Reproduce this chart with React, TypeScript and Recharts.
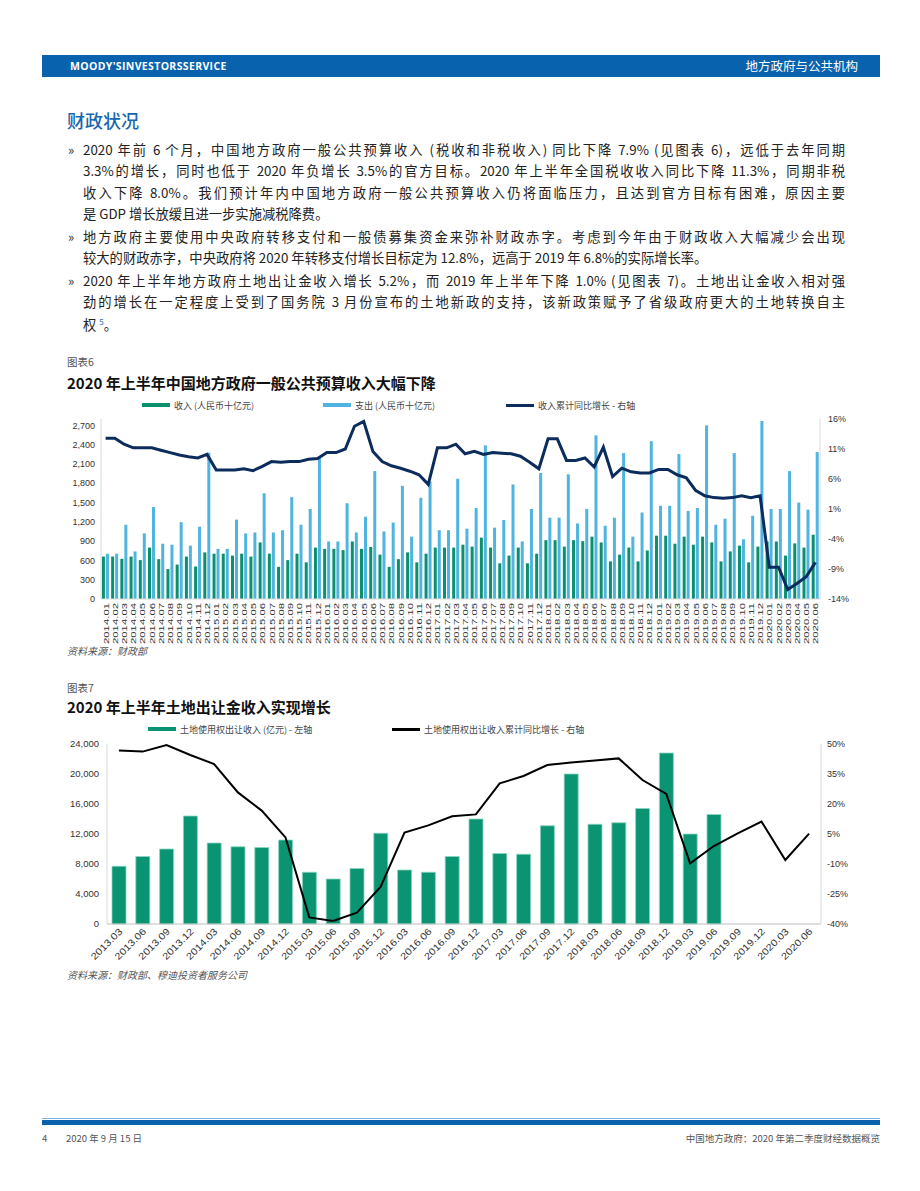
import React from 'react';
import { ComposedChart, Bar, Line, XAxis, YAxis } from 'recharts';

// ---------- Chart 6 data ----------
const months6 = [
  '2014.01','2014.02','2014.03','2014.04','2014.05','2014.06','2014.07','2014.08','2014.09','2014.10','2014.11','2014.12',
  '2015.01','2015.02','2015.03','2015.04','2015.05','2015.06','2015.07','2015.08','2015.09','2015.10','2015.11','2015.12',
  '2016.01','2016.02','2016.03','2016.04','2016.05','2016.06','2016.07','2016.08','2016.09','2016.10','2016.11','2016.12',
  '2017.01','2017.02','2017.03','2017.04','2017.05','2017.06','2017.07','2017.08','2017.09','2017.10','2017.11','2017.12',
  '2018.01','2018.02','2018.03','2018.04','2018.05','2018.06','2018.07','2018.08','2018.09','2018.10','2018.11','2018.12',
  '2019.01','2019.02','2019.03','2019.04','2019.05','2019.06','2019.07','2019.08','2019.09','2019.10','2019.11','2019.12',
  '2020.01','2020.02','2020.03','2020.04','2020.05','2020.06',
];
const revenue6 = [
  660, 660, 625, 660, 605, 800, 620, 465, 535, 660, 505, 725,
  705, 705, 675, 705, 660, 880, 705, 500, 605, 705, 570, 800,
  780, 780, 760, 895, 780, 810, 690, 500, 620, 725, 570, 705,
  800, 800, 800, 845, 815, 955, 800, 555, 675, 800, 555, 705,
  915, 915, 815, 915, 900, 970, 880, 585, 690, 800, 585, 755,
  985, 985, 860, 970, 845, 970, 880, 585, 740, 830, 570, 815,
  895, 895, 675, 865, 800, 1000,
];
const expenditure6 = [
  705, 705, 1155, 740, 1020, 1430, 860, 845, 1195, 830, 1125, 2275,
  780, 780, 1235, 1020, 1035, 1645, 1035, 1070, 1585, 1155, 1400, 2190,
  895, 895, 1490, 1035, 1280, 1990, 1050, 1190, 1760, 970, 1575, 1830,
  1070, 1070, 1870, 1095, 1415, 2390, 1110, 1230, 1780, 895, 1400, 1960,
  1265, 1265, 1940, 1175, 1400, 2545, 1140, 1265, 2270, 970, 1345, 2455,
  1450, 1450, 2255, 1370, 1415, 2700, 1155, 1250, 2270, 930, 1295, 2770,
  1400, 1400, 1990, 1500, 1390, 2285,
];
const growth6 = [
  12.8, 12.8, 11.8, 11.2, 11.2, 11.2, 10.8, 10.4, 10.0, 9.7, 9.5, 10.1,
  7.5, 7.5, 7.5, 7.7, 7.4, 8.1, 8.9, 8.8, 8.9, 8.9, 9.3, 9.4,
  10.4, 10.4, 11.0, 14.8, 15.6, 10.6, 8.9, 8.2, 7.8, 7.3, 6.7, 5.1,
  11.2, 11.2, 11.8, 10.2, 10.6, 10.1, 10.4, 10.3, 10.2, 9.8, 8.8, 7.7,
  12.7, 12.7, 9.1, 9.1, 9.5, 8.0, 11.3, 6.4, 7.8, 7.2, 7.0, 7.0,
  7.6, 7.6, 6.7, 6.2, 4.1, 3.2, 2.9, 2.8, 2.9, 3.2, 2.9, 3.2,
  -8.7, -8.7, -12.4, -11.4, -10.3, -7.9,
];
const leftTicks6 = [0, 300, 600, 900, 1200, 1500, 1800, 2100, 2400, 2700];
const rightTicks6 = [-14, -9, -4, 1, 6, 11, 16];

// ---------- Chart 7 data ----------
const quarters7 = [
  '2013.03','2013.06','2013.09','2013.12','2014.03','2014.06','2014.09','2014.12',
  '2015.03','2015.06','2015.09','2015.12','2016.03','2016.06','2016.09','2016.12',
  '2017.03','2017.06','2017.09','2017.12','2018.03','2018.06','2018.09','2018.12',
  '2019.03','2019.06','2019.09','2019.12','2020.03','2020.06',
];
const land7: (number | null)[] = [
  7700, 9000, 10000, 14400, 10800, 10300, 10200, 11200,
  6900, 6000, 7400, 12100, 7200, 6900, 9000, 14000,
  9400, 9300, 13100, 20000, 13300, 13500, 15400, 22800,
  12000, 14600, null, null, null, null,
];
const landGrowth7 = [
  46.7, 46.2, 49.5, 44.5, 40.0, 25.8, 16.7, 3.3,
  -36.7, -38.5, -34.3, -21.3, 5.7, 9.3, 13.9, 14.8,
  30.3, 34.0, 39.5, 40.8, 41.7, 42.8, 32.0, 25.0,
  -9.7, -1.0, 5.3, 11.2, -8.0, 5.2,
];
const leftTicks7 = [0, 4000, 8000, 12000, 16000, 20000, 24000];
const rightTicks7 = [-40, -25, -10, 5, 20, 35, 50];

const chart6Data = months6.map((m, i) => ({ month: m, rev: revenue6[i], exp: expenditure6[i], growth: growth6[i] }));
const chart7Data = quarters7.map((q, i) => ({ q, land: land7[i], growth: landGrowth7[i] }));

const GREEN = '#0A8F6F';
const BLUE = '#4FB4E0';
const NAVY = '#0B2C5C';
const GREEN7 = '#0A9472';
const HEADER_BLUE = '#0862AD';
const AXIS_FONT = "'Liberation Sans', Arial, sans-serif";
const CJK = "'Noto Sans CJK SC', 'Noto Sans', sans-serif";

const fmtComma = (v: number) => v.toLocaleString('en-US');
const fmtPct = (v: number) => `${v}%`;

const Tick6 = (props: any) => {
  const { x, y, payload } = props;
  return (
    <g transform={`translate(${x},${y})`}>
      <text x={0} y={0} dy={3} transform="rotate(-90)" textAnchor="end" fontSize={8} fill="#333"
        fontFamily={AXIS_FONT} textLength={41} lengthAdjust="spacingAndGlyphs">{payload.value}</text>
    </g>
  );
};

const Tick7 = (props: any) => {
  const { x, y, payload } = props;
  return (
    <g transform={`translate(${x + 2},${y})`}>
      <text x={0} y={0} dy={3} transform="rotate(-45)" textAnchor="end" fontSize={9.5} fill="#333"
        fontFamily={AXIS_FONT} textLength={40} lengthAdjust="spacingAndGlyphs">{payload.value}</text>
    </g>
  );
};

const abs = (l: number, t: number, extra: React.CSSProperties = {}): React.CSSProperties => ({
  position: 'absolute', left: l, top: t, ...extra,
});

const LINE_LEFT = 83;
const LINE_WIDTH = 762;

const TextLine = ({ y, text, justify = true }: { y: number; text: React.ReactNode; justify?: boolean }) => (
  <div style={abs(LINE_LEFT, y - 10, {
    width: LINE_WIDTH, height: 20, lineHeight: '20px', fontSize: 13.3, color: '#222',
    textAlign: justify ? 'justify' : 'left', textAlignLast: justify ? 'justify' : 'left',
    fontFamily: CJK,
  } as React.CSSProperties)}>{text}</div>
);

const Bullet = ({ y }: { y: number }) => (
  <div style={abs(68, y - 10, { fontSize: 13, lineHeight: '20px', color: '#333', fontFamily: CJK })}>»</div>
);

const LegendItem = ({ x, y, kind, color, label }: { x: number; y: number; kind: 'bar' | 'line'; color: string; label: string }) => (
  <div style={abs(x, y - 7, { display: 'flex', alignItems: 'center', height: 14, whiteSpace: 'nowrap' })}>
    <div style={{ width: 28, height: kind === 'bar' ? 4 : 3, background: color, marginRight: 4 }} />
    <span style={{ fontSize: 9, color: '#444', fontFamily: CJK }}>{label}</span>
  </div>
);

export default function App() {
  return (
    <div style={{ position: 'absolute', left: 0, top: 0, width: 920, height: 1191, background: '#fff', fontFamily: CJK, overflow: 'hidden' }}>
      {/* Header */}
      <div style={abs(42, 55, { width: 838, height: 22, background: HEADER_BLUE })} />
      <div style={abs(70, 55, { height: 22, lineHeight: '22px', color: '#fff', fontSize: 10.5, fontWeight: 700, fontFamily: "'Open Sans', sans-serif", letterSpacing: 0.35 })}>MOODY'SINVESTORSSERVICE</div>
      <div style={abs(640, 55, { width: 218, height: 22, lineHeight: '22px', color: '#fff', fontSize: 12.5, textAlign: 'right', fontFamily: CJK })}>地方政府与公共机构</div>

      {/* Section title */}
      <div style={abs(67, 108, { fontSize: 18, lineHeight: '24px', color: '#1A66B0', fontWeight: 500, fontFamily: CJK })}>财政状况</div>

      {/* Paragraph 1 */}
      <Bullet y={150} />
      <TextLine y={150} text="2020 年前 6 个月，中国地方政府一般公共预算收入 (税收和非税收入) 同比下降 7.9% (见图表 6)，远低于去年同期" />
      <TextLine y={171} text="3.3%的增长，同时也低于 2020 年负增长 3.5%的官方目标。2020 年上半年全国税收收入同比下降 11.3%，同期非税" />
      <TextLine y={193} text="收入下降 8.0%。我们预计年内中国地方政府一般公共预算收入仍将面临压力，且达到官方目标有困难，原因主要" />
      <TextLine y={214} justify={false} text="是 GDP 增长放缓且进一步实施减税降费。" />

      {/* Paragraph 2 */}
      <Bullet y={237} />
      <TextLine y={237} text="地方政府主要使用中央政府转移支付和一般债募集资金来弥补财政赤字。考虑到今年由于财政收入大幅减少会出现" />
      <TextLine y={258} justify={false} text="较大的财政赤字，中央政府将 2020 年转移支付增长目标定为 12.8%，远高于 2019 年 6.8%的实际增长率。" />

      {/* Paragraph 3 */}
      <Bullet y={281} />
      <TextLine y={281} text="2020 年上半年地方政府土地出让金收入增长 5.2%，而 2019 年上半年下降 1.0% (见图表 7)。土地出让金收入相对强" />
      <TextLine y={302} text="劲的增长在一定程度上受到了国务院 3 月份宣布的土地新政的支持，该新政策赋予了省级政府更大的土地转换自主" />
      <TextLine y={322} justify={false} text={<span>权 <sup style={{ fontSize: 8, color: '#1C6BB4' }}>5</sup>。</span>} />

      {/* Chart 6 headings */}
      <div style={abs(67, 355, { fontSize: 10.5, lineHeight: '14px', color: '#555', fontFamily: CJK })}>图表6</div>
      <div style={abs(67, 373, { fontSize: 15, lineHeight: '20px', fontWeight: 700, color: '#111', fontFamily: CJK, whiteSpace: 'nowrap' })}>2020 年上半年中国地方政府一般公共预算收入大幅下降</div>

      <LegendItem x={142} y={405} kind="bar" color={GREEN} label="收入 (人民币十亿元)" />
      <LegendItem x={323} y={405} kind="bar" color={BLUE} label="支出 (人民币十亿元)" />
      <LegendItem x={506} y={405} kind="line" color={NAVY} label="收入累计同比增长 - 右轴" />

      <div style={abs(0, 400)}>
        <ComposedChart width={920} height={260} data={chart6Data}
          margin={{ top: 19, right: 60, bottom: 11, left: 61 }} barCategoryGap="10%" barGap={1}>
          <XAxis dataKey="month" interval={0} tickLine={false} axisLine={{ stroke: '#d9d9d9' }}
            tick={<Tick6 />} height={50} tickSize={0} tickMargin={4} />
          <YAxis yAxisId="left" domain={[0, 2800]} ticks={leftTicks6} width={40} tickLine={false}
            axisLine={{ stroke: '#d9d9d9' }} tickSize={0} tickMargin={6} tickFormatter={fmtComma}
            tick={{ fontSize: 9, fill: '#333', fontFamily: AXIS_FONT }} />
          <YAxis yAxisId="right" orientation="right" domain={[-14, 16]} ticks={rightTicks6} width={40}
            tickLine={false} axisLine={{ stroke: '#d9d9d9' }} tickSize={0} tickMargin={8} tickFormatter={fmtPct}
            tick={{ fontSize: 9, fill: '#333', fontFamily: AXIS_FONT }} />
          <Bar yAxisId="left" dataKey="rev" fill={GREEN} isAnimationActive={false} />
          <Bar yAxisId="left" dataKey="exp" fill={BLUE} isAnimationActive={false} />
          <Line yAxisId="right" dataKey="growth" stroke={NAVY} strokeWidth={3} dot={false}
            type="linear" isAnimationActive={false} />
        </ComposedChart>
      </div>

      <div style={abs(67, 644, { fontSize: 10, lineHeight: '14px', color: '#555', fontStyle: 'italic', fontFamily: CJK })}>资料来源：财政部</div>

      {/* Chart 7 headings */}
      <div style={abs(67, 681, { fontSize: 10.5, lineHeight: '14px', color: '#555', fontFamily: CJK })}>图表7</div>
      <div style={abs(67, 697, { fontSize: 15, lineHeight: '20px', fontWeight: 700, color: '#111', fontFamily: CJK, whiteSpace: 'nowrap' })}>2020 年上半年土地出让金收入实现增长</div>

      <LegendItem x={148} y={729} kind="bar" color={GREEN7} label="土地使用权出让收入 (亿元) - 左轴" />
      <LegendItem x={392} y={729} kind="line" color="#000" label="土地使用权出让收入累计同比增长 - 右轴" />

      <div style={abs(0, 730)}>
        <ComposedChart width={920} height={260} data={chart7Data}
          margin={{ top: 14, right: 59, bottom: 10, left: 67 }} barCategoryGap="21%">
          <XAxis dataKey="q" interval={0} tickLine={false} axisLine={{ stroke: '#bfbfbf' }}
            tick={<Tick7 />} height={56} tickSize={0} tickMargin={6} />
          <YAxis yAxisId="left" domain={[0, 24000]} ticks={leftTicks7} width={40} tickLine={false}
            axisLine={{ stroke: '#d9d9d9' }} tickSize={0} tickMargin={8} tickFormatter={fmtComma}
            tick={{ fontSize: 9.5, fill: '#333', fontFamily: AXIS_FONT }} />
          <YAxis yAxisId="right" orientation="right" domain={[-40, 50]} ticks={rightTicks7} width={40}
            tickLine={false} axisLine={{ stroke: '#d9d9d9' }} tickSize={0} tickMargin={6} tickFormatter={fmtPct}
            tick={{ fontSize: 9, fill: '#333', fontFamily: AXIS_FONT }} />
          <Bar yAxisId="left" dataKey="land" fill={GREEN7} stroke="#8ad6c0" strokeWidth={0.8} isAnimationActive={false} />
          <Line yAxisId="right" dataKey="growth" stroke="#000" strokeWidth={2} dot={false}
            type="linear" isAnimationActive={false} />
        </ComposedChart>
      </div>

      <div style={abs(67, 968, { fontSize: 10, lineHeight: '14px', color: '#555', fontStyle: 'italic', fontFamily: CJK })}>资料来源：财政部、穆迪投资者服务公司</div>

      {/* Footer */}
      <div style={abs(42, 1118, { width: 838, height: 1, background: '#7fb3e0' })} />
      <div style={abs(42, 1120, { width: 838, height: 5, background: HEADER_BLUE })} />
      <div style={abs(42, 1131, { fontSize: 9.5, lineHeight: '14px', color: '#555', fontFamily: CJK })}>4</div>
      <div style={abs(66, 1131, { fontSize: 9.5, lineHeight: '14px', color: '#555', fontFamily: CJK, whiteSpace: 'nowrap' })}>2020 年 9 月 15 日</div>
      <div style={abs(560, 1131, { width: 320, fontSize: 9.5, lineHeight: '14px', color: '#555', fontFamily: CJK, textAlign: 'right', whiteSpace: 'nowrap' })}>中国地方政府：2020 年第二季度财经数据概览</div>
    </div>
  );
}
